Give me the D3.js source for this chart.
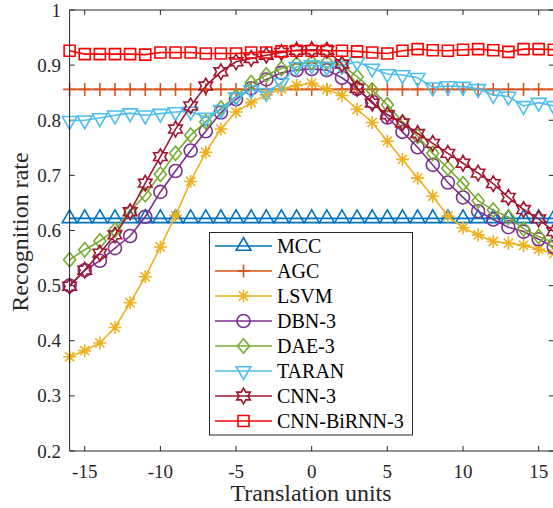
<!DOCTYPE html>
<html><head><meta charset="utf-8">
<script src="https://cdn.jsdelivr.net/npm/d3@7"></script>
<style>body{margin:0;background:#fff;overflow:hidden} svg{display:block} text{font-family:"Liberation Serif","Times New Roman",serif}</style>
</head><body>
<script>
const translationUnits = [-16,-15,-14,-13,-12,-11,-10,-9,-8,-7,-6,-5,-4,-3,-2,-1,0,1,2,3,4,5,6,7,8,9,10,11,12,13,14,15,16];
const xTicks = [-15,-10,-5,0,5,10,15];
const yTicks = [0.2,0.3,0.4,0.5,0.6,0.7,0.8,0.9,1];
const yTickLabels = ["0.2","0.3","0.4","0.5","0.6","0.7","0.8","0.9","1"];
const seriesNames = ["MCC","AGC","LSVM","DBN-3","DAE-3","TARAN","CNN-3","CNN-BiRNN-3"];
const seriesColors = ["#0072BD","#D95319","#EDB120","#7E2F8E","#77AC30","#4DBEEE","#A2142F","#FF0000"];
const seriesMarkers = ["tri","plus","ast","circle","diamond","tridown","hexagram","square"];

const mcc = [0.622,0.622,0.622,0.622,0.622,0.622,0.622,0.622,0.622,0.622,0.622,0.622,0.622,0.622,0.622,0.622,0.622,0.622,0.622,0.622,0.622,0.622,0.622,0.622,0.622,0.622,0.622,0.622,0.622,0.622,0.622,0.622,0.622];
const agc = [0.856,0.856,0.856,0.856,0.856,0.856,0.856,0.856,0.856,0.856,0.856,0.856,0.856,0.856,0.856,0.856,0.856,0.856,0.856,0.856,0.856,0.856,0.856,0.856,0.856,0.856,0.856,0.856,0.856,0.856,0.856,0.856,0.856];
const lsvm = [0.371,0.382,0.396,0.424,0.469,0.516,0.570,0.627,0.689,0.742,0.784,0.815,0.832,0.846,0.857,0.863,0.867,0.856,0.845,0.820,0.796,0.762,0.729,0.695,0.662,0.626,0.605,0.592,0.580,0.577,0.573,0.566,0.558];
const dbn3 = [0.500,0.528,0.545,0.568,0.590,0.625,0.670,0.708,0.745,0.780,0.814,0.838,0.858,0.874,0.886,0.891,0.893,0.891,0.877,0.857,0.834,0.805,0.779,0.751,0.719,0.687,0.660,0.635,0.620,0.606,0.598,0.584,0.570];
const dae3 = [0.547,0.565,0.581,0.601,0.634,0.665,0.702,0.740,0.773,0.797,0.822,0.843,0.868,0.882,0.894,0.902,0.905,0.905,0.900,0.879,0.855,0.828,0.797,0.771,0.740,0.713,0.685,0.654,0.637,0.624,0.603,0.589,0.578];
const taran = [0.799,0.800,0.804,0.809,0.813,0.809,0.812,0.815,0.816,0.805,0.819,0.842,0.855,0.850,0.868,0.897,0.900,0.897,0.899,0.906,0.894,0.884,0.882,0.877,0.860,0.862,0.861,0.857,0.846,0.843,0.826,0.832,0.826];
const cnn3 = [0.499,0.528,0.559,0.592,0.634,0.686,0.734,0.784,0.826,0.862,0.888,0.906,0.912,0.918,0.923,0.927,0.928,0.927,0.902,0.858,0.831,0.810,0.795,0.776,0.758,0.740,0.722,0.704,0.685,0.660,0.638,0.621,0.598];
const cnnBiRnn3 = [0.926,0.920,0.920,0.920,0.920,0.919,0.923,0.923,0.923,0.921,0.921,0.921,0.923,0.923,0.925,0.926,0.926,0.926,0.926,0.925,0.923,0.921,0.926,0.929,0.927,0.926,0.928,0.929,0.927,0.924,0.929,0.929,0.928];

const allSeries = [mcc, agc, lsvm, dbn3, dae3, taran, cnn3, cnnBiRnn3];

const W = 553, H = 508;
const svg = d3.select("body").append("svg").attr("width", W).attr("height", H);
const x = d3.scaleLinear().domain([-16,16]).range([69.6, 553.8]);
const y = d3.scaleLinear().domain([0.2,1]).range([451, 10]);
const axisColor = "#262626";

function markerPath(type) {
  const p = d3.path();
  if (type === "tri") { const r = 8.5; p.moveTo(0,-r); p.lineTo(r*0.866, r*0.5); p.lineTo(-r*0.866, r*0.5); p.closePath(); }
  else if (type === "tridown") { const r = 8.5; p.moveTo(0,r); p.lineTo(r*0.866,-r*0.5); p.lineTo(-r*0.866,-r*0.5); p.closePath(); }
  else if (type === "plus") { p.moveTo(-6.5,0); p.lineTo(6.5,0); p.moveTo(0,-6.5); p.lineTo(0,6.5); }
  else if (type === "ast") { p.moveTo(-6.5,0); p.lineTo(6.5,0); p.moveTo(0,-6.5); p.lineTo(0,6.5); p.moveTo(-4.6,-4.6); p.lineTo(4.6,4.6); p.moveTo(-4.6,4.6); p.lineTo(4.6,-4.6); }
  else if (type === "circle") { p.arc(0,0,6.5,0,Math.PI*2); p.closePath(); }
  else if (type === "diamond") { p.moveTo(0,-7.2); p.lineTo(6,0); p.lineTo(0,7.2); p.lineTo(-6,0); p.closePath(); }
  else if (type === "square") { p.rect(-5.5,-5.5,11,11); }
  else if (type === "hexagram") {
    const R = 7.8, r = R/Math.sqrt(3);
    for (let k = 0; k < 12; k++) {
      const a = (-90 + k*30) * Math.PI/180;
      const rr = (k % 2 === 0) ? R : r;
      const px = rr*Math.cos(a), py = rr*Math.sin(a);
      if (k === 0) p.moveTo(px,py); else p.lineTo(px,py);
    }
    p.closePath();
  }
  return p.toString();
}

// ticks (inward, mirrored)
const g = svg.append("g");
xTicks.forEach(t => {
  g.append("line").attr("x1", x(t)).attr("x2", x(t)).attr("y1", 451).attr("y2", 446).attr("stroke", axisColor);
  g.append("line").attr("x1", x(t)).attr("x2", x(t)).attr("y1", 10).attr("y2", 15).attr("stroke", axisColor);
});
yTicks.forEach(t => {
  g.append("line").attr("x1", 69.6).attr("x2", 74.6).attr("y1", y(t)).attr("y2", y(t)).attr("stroke", axisColor);
  g.append("line").attr("x1", 553.8).attr("x2", 548.8).attr("y1", y(t)).attr("y2", y(t)).attr("stroke", axisColor);
});

// series
const line = d3.line().x((d,i) => x(translationUnits[i])).y(d => y(d));
allSeries.forEach((vals, si) => {
  const col = seriesColors[si];
  svg.append("path").datum(vals).attr("d", line).attr("fill","none").attr("stroke", col).attr("stroke-width", 1.6);
  const mp = markerPath(seriesMarkers[si]);
  svg.append("g").selectAll("path").data(vals).join("path")
    .attr("transform", (d,i) => `translate(${x(translationUnits[i])},${y(d)})`)
    .attr("d", mp).attr("fill", "none").attr("stroke", col).attr("stroke-width", 1.6);
});

// axes box lines
svg.append("line").attr("x1", 69.6).attr("x2", 69.6).attr("y1", 10).attr("y2", 451).attr("stroke", axisColor);
svg.append("line").attr("x1", 69.6).attr("x2", 553.8).attr("y1", 451).attr("y2", 451).attr("stroke", axisColor);
svg.append("line").attr("x1", 69.6).attr("x2", 553.8).attr("y1", 10).attr("y2", 10).attr("stroke", axisColor);
svg.append("line").attr("x1", 553.8).attr("x2", 553.8).attr("y1", 10).attr("y2", 451).attr("stroke", axisColor);

// tick labels
xTicks.forEach(t => {
  svg.append("text").attr("x", x(t)).attr("y", 478).attr("text-anchor","middle")
    .attr("font-size", 19).attr("fill", axisColor).text(t < 0 ? "-" + Math.abs(t) : String(t));
});
yTicks.forEach((t,i) => {
  svg.append("text").attr("x", 61).attr("y", y(t) + 6.5).attr("text-anchor","end")
    .attr("font-size", 19).attr("fill", axisColor).text(yTickLabels[i]);
});

// axis titles
svg.append("text").attr("x", 311).attr("y", 501).attr("text-anchor","middle")
  .attr("font-size", 24).attr("fill", axisColor).text("Translation units");
svg.append("text").attr("transform", "translate(28,232) rotate(-90)").attr("text-anchor","middle")
  .attr("font-size", 24).attr("fill", axisColor).text("Recognition rate");

// legend
const lg = svg.append("g");
lg.append("rect").attr("x", 209.5).attr("y", 232.5).attr("width", 203).attr("height", 202.5)
  .attr("fill", "#fff").attr("stroke", axisColor).attr("stroke-width", 1);
seriesNames.forEach((name, i) => {
  const cy = 246 + i*25;
  const col = seriesColors[i];
  lg.append("line").attr("x1", 215).attr("x2", 272).attr("y1", cy).attr("y2", cy).attr("stroke", col).attr("stroke-width", 1.6);
  lg.append("path").attr("transform", `translate(243.5,${cy})`).attr("d", markerPath(seriesMarkers[i]))
    .attr("fill","none").attr("stroke", col).attr("stroke-width", 1.6);
  lg.append("text").attr("x", 277).attr("y", cy + 7).attr("font-size", 20)
    .attr("fill", "#000").text(name);
});
</script>
</body></html>
